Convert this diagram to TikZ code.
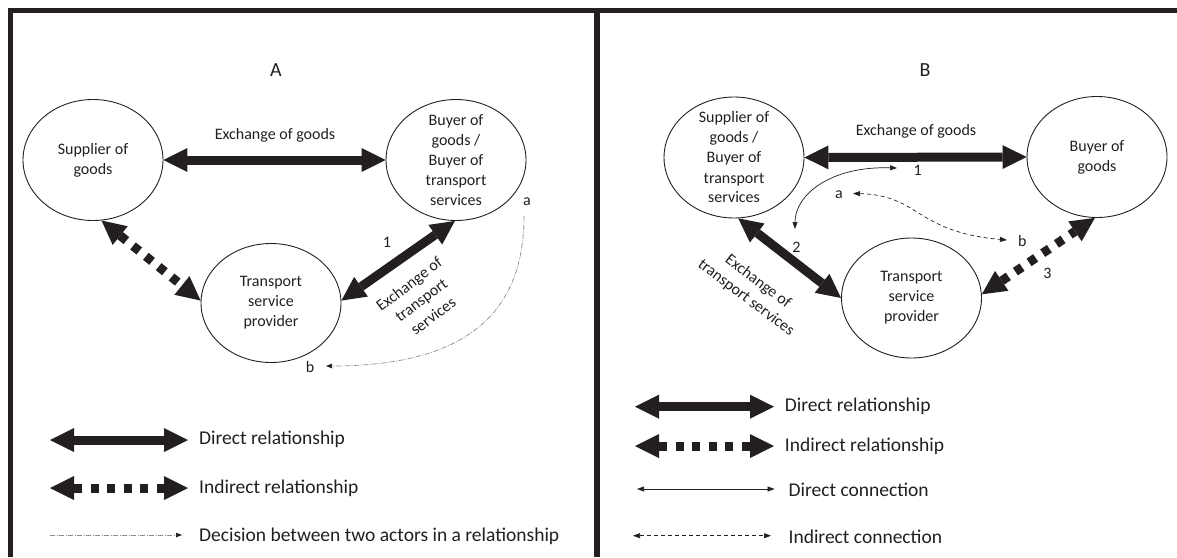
\documentclass[tikz,border=0pt]{standalone}
\usepackage{fontspec}
\setmainfont{Carlito}
\usetikzlibrary{arrows.meta,shapes.geometric}
\definecolor{ink}{RGB}{35,31,32}
\definecolor{dashgray}{RGB}{140,140,140}

\begin{document}
\begin{tikzpicture}[x=1pt,y=-1pt,
  actor/.style={ellipse,draw=ink,line width=0.9pt,minimum width=140pt,minimum height=121pt,inner sep=0pt},
  lbl/.style={font=\fontsize{16}{20}\selectfont,align=center,text=ink,inner sep=1pt},
  title/.style={font=\fontsize{20}{24}\selectfont,text=ink,inner sep=0pt},
  legtext/.style={font=\fontsize{19.5}{23}\selectfont,anchor=west,text=ink,inner sep=0pt},
  bigtip/.style={Triangle[length=24pt,width=24pt,line width=0pt]},
  rel/.style={draw=ink,line width=9pt,{Triangle[length=24pt,width=24pt,line width=0pt]}-{Triangle[length=24pt,width=24pt,line width=0pt]}},
  indrel/.style={rel,dash pattern=on 8pt off 8.5pt},
  conn/.style={draw=ink,line width=0.7pt,{Triangle[length=7pt,width=5pt]}-{Triangle[length=7pt,width=5pt]}},
  indconn/.style={conn,dash pattern=on 4pt off 3pt},
  decision/.style={draw=dashgray,line width=0.7pt,dash pattern=on 5pt off 1.5pt on 1pt off 1.5pt,-{Triangle[length=6pt,width=4.5pt,color=ink]}},
]
\useasboundingbox (0,0) rectangle (1177,557);

% frame and divider
\draw[ink,line width=4.7pt] (8,10.3) -- (1177,10.3);
\draw[ink,line width=4.7pt] (10.3,8) -- (10.3,557);
\draw[ink,line width=6.7pt] (597,10) -- (597,557);

% ---------------- panel A ----------------
\node[title] (tA) at (276,70) {A};
\node[actor] (supA) at (93,160) {};
\node[lbl] (supAt) at (supA) {Supplier of\\goods};
\node[actor] (buyA) at (456,160) {};
\node[lbl] (buyAt) at (buyA) {Buyer of\\goods /\\Buyer of\\transport\\services};
\node[actor,minimum height=119pt] (trA) at (271,303) {};
\node[lbl] (trAt) at (trA) {Transport\\service\\provider};

\node[lbl] (exgA) at (275,135) {Exchange of goods};
\draw[rel] (supA.east) -- (buyA.west);

\draw[rel] (trA.2) -- (buyA.-91);
\node[lbl] (oneA) at (387,242) {1};
\node[lbl,rotate=37] (extA) at (421,300) {Exchange of\\transport\\services};

\draw[indrel] (supA.-82) -- (trA.178);

\node[lbl] (aA) at (527,202) {a};
\node[lbl] (bA) at (310,367) {b};
\coordinate (aAstart) at (524,216);
\coordinate (bAtip) at (326,366);
\draw[decision] (aAstart) .. controls (524,310) and (470,366) .. (bAtip);

% legend A
\coordinate (lA1l) at (50,440);  \coordinate (lA1r) at (188,440);
\coordinate (lA2l) at (50,488);  \coordinate (lA2r) at (188,488);
\coordinate (lA3l) at (50,535);  \coordinate (lA3r) at (182,535);
\draw[rel] (lA1l) -- (lA1r);
\draw[indrel] (lA2l) -- (lA2r);
\draw[decision] (lA3l) -- (lA3r);
\node[legtext] (lA1t) at (199,439) {Direct relationship};
\node[legtext] (lA2t) at (199,488) {Indirect relationship};
\node[legtext] (lA3t) at (199,536) {Decision between two actors in a relationship};

% ---------------- panel B ----------------
\node[title] (tB) at (925,70) {B};
\node[actor] (supB) at (734,157.5) {};
\node[lbl] (supBt) at (supB) {Supplier of\\goods /\\Buyer of\\transport\\services};
\node[actor] (buyB) at (1097,157) {};
\node[lbl] (buyBt) at (buyB) {Buyer of\\goods};
\node[actor,minimum height=120pt] (trB) at (911.5,298) {};
\node[lbl] (trBt) at (trB) {Transport\\service\\provider};

\node[lbl] (exgB) at (916,131) {Exchange of goods};
\draw[rel] (supB.east) -- (buyB.west);

\draw[rel] (supB.-86) -- (trB.180);
\node[lbl] (twoB) at (796.5,247) {2};
\node[lbl,rotate=-37] (extB) at (752,290) {Exchange of\\transport services};

\draw[indrel] (trB.3) -- (buyB.-92);
\node[lbl] (threeB) at (1047.5,273) {3};

\node[lbl] (oneB) at (917.6,170.7) {1};
\coordinate (c1) at (897,168);
\coordinate (c2) at (795,229);
\draw[conn] (c1) .. controls (830,166) and (795,195) .. (c2);

\node[lbl] (aB) at (839,195) {a};
\node[lbl] (bB) at (1022.4,240.5) {b};
\coordinate (ca) at (853,193.5);
\coordinate (cb) at (1007,240);
\draw[indconn] (ca) .. controls (920,195) and (915,232) .. (cb);

% legend B
\coordinate (lB1l) at (635,406.7);  \coordinate (lB1r) at (774,406.7);
\coordinate (lB2l) at (635,446);    \coordinate (lB2r) at (774,446);
\coordinate (lB3l) at (637,489);    \coordinate (lB3r) at (774.6,489);
\coordinate (lB4l) at (633,535.7);  \coordinate (lB4r) at (771,535.7);
\draw[rel] (lB1l) -- (lB1r);
\draw[indrel] (lB2l) -- (lB2r);
\draw[conn] (lB3l) -- (lB3r);
\draw[indconn] (lB4l) -- (lB4r);
\node[legtext] (lB1t) at (784.7,406) {Direct relationship};
\node[legtext] (lB2t) at (784.7,446) {Indirect relationship};
\node[legtext] (lB3t) at (788.4,490) {Direct connection};
\node[legtext] (lB4t) at (788.4,537) {Indirect connection};
\end{tikzpicture}
\end{document}
